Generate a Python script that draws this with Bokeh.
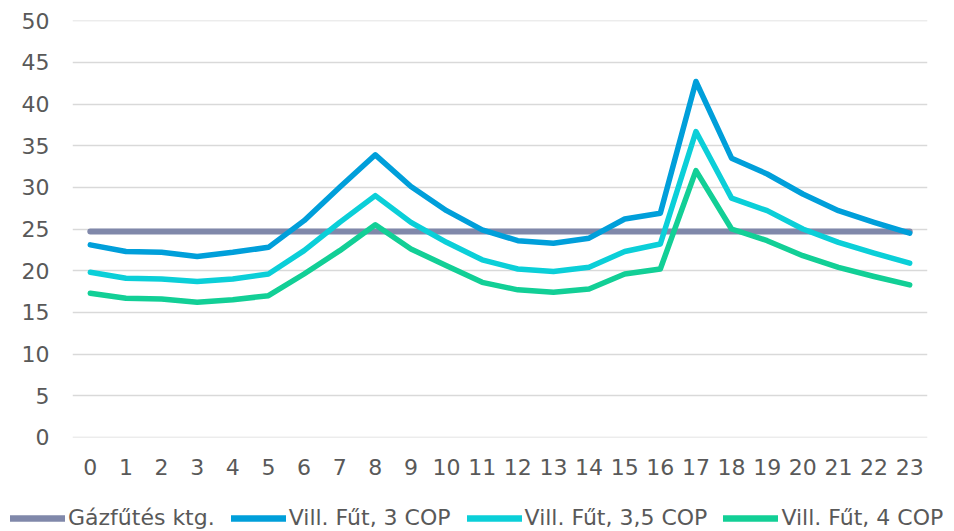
from bokeh.plotting import figure
from bokeh.models import Legend, LegendItem, FixedTicker, Range1d
from bokeh.embed import file_html
from bokeh.resources import INLINE

hours = list(range(24))
tick_labels = [str(h) for h in hours]
gas = [24.7] * 24
cop3 = [23.1, 22.3, 22.2, 21.7, 22.2, 22.8, 26.0, 30.0, 33.9, 30.1, 27.2, 24.9,
        23.6, 23.3, 23.9, 26.2, 26.9, 42.7, 33.5, 31.6, 29.2, 27.2, 25.8, 24.5]
cop35 = [19.8, 19.1, 19.0, 18.7, 19.0, 19.6, 22.4, 25.8, 29.0, 25.8, 23.4, 21.3,
         20.2, 19.9, 20.4, 22.3, 23.2, 36.7, 28.7, 27.2, 25.0, 23.4, 22.1, 20.9]
cop4 = [17.3, 16.7, 16.6, 16.2, 16.5, 17.0, 19.6, 22.4, 25.5, 22.6, 20.6, 18.6,
        17.7, 17.4, 17.8, 19.6, 20.2, 32.0, 25.0, 23.6, 21.8, 20.4, 19.3, 18.3]
series_names = ["Gázfűtés ktg.", "Vill. Fűt, 3 COP", "Vill. Fűt, 3,5 COP", "Vill. Fűt, 4 COP"]
colors = ["#8088AA", "#009FDA", "#0BCFD8", "#12CF96"]
widths = [6, 5.5, 5.5, 5.5]

FONT = "DejaVu Sans"
FS = "22px"

p = figure(width=954, height=490, output_backend="svg", toolbar_location=None,
           x_range=Range1d(-0.5, 23.5), y_range=Range1d(-0.02, 50.02),
           min_border_left=72, min_border_right=27, min_border_top=20, min_border_bottom=53)
p.outline_line_color = None
p.background_fill_color = "white"
p.border_fill_color = "white"

p.xgrid.grid_line_color = None
p.ygrid.grid_line_color = "#D9D9D9"
p.ygrid.grid_line_width = 1.5
p.yaxis.ticker = FixedTicker(ticks=list(range(0, 51, 5)))
p.xaxis.ticker = FixedTicker(ticks=hours)
p.xaxis.major_label_overrides = {h: lbl for h, lbl in zip(hours, tick_labels)}

for ax in (p.xaxis, p.yaxis):
    ax.axis_line_color = None
    ax.major_tick_line_color = None
    ax.minor_tick_line_color = None
    ax.major_label_text_font = FONT
    ax.major_label_text_font_size = FS
    ax.major_label_text_color = "#595959"
p.yaxis.major_label_standoff = 17
p.xaxis.major_label_standoff = 15

for data, c, w in zip([gas, cop3, cop35, cop4], colors, widths):
    p.line(hours, data, line_color=c, line_width=w, line_cap="round", line_join="round")

# legend strip below the chart (separate root, so no frame alignment)
lf = figure(width=954, height=41, output_backend="svg", toolbar_location=None,
            x_range=Range1d(0, 1), y_range=Range1d(0, 1),
            x_axis_location=None, y_axis_location=None,
            min_border_left=0, min_border_right=0, min_border_top=0, min_border_bottom=0)
lf.grid.visible = False
lf.outline_line_color = None
lf.border_fill_color = "white"
dummies = []
for c in colors:
    dummies.append(lf.line([5, 6], [5, 6], line_color=c, line_width=6.5, line_cap="round"))

legend = Legend(items=[LegendItem(label=n, renderers=[r]) for n, r in zip(series_names, dummies)],
                orientation="horizontal", location=(10, 1),
                glyph_width=55, glyph_height=16, label_standoff=3, spacing=16,
                padding=0, margin=0, border_line_color=None, background_fill_alpha=0,
                label_text_font=FONT, label_text_font_size=FS, label_text_color="#595959")
lf.add_layout(legend, "center")

open("out.html", "w").write(file_html([p, lf], INLINE))
